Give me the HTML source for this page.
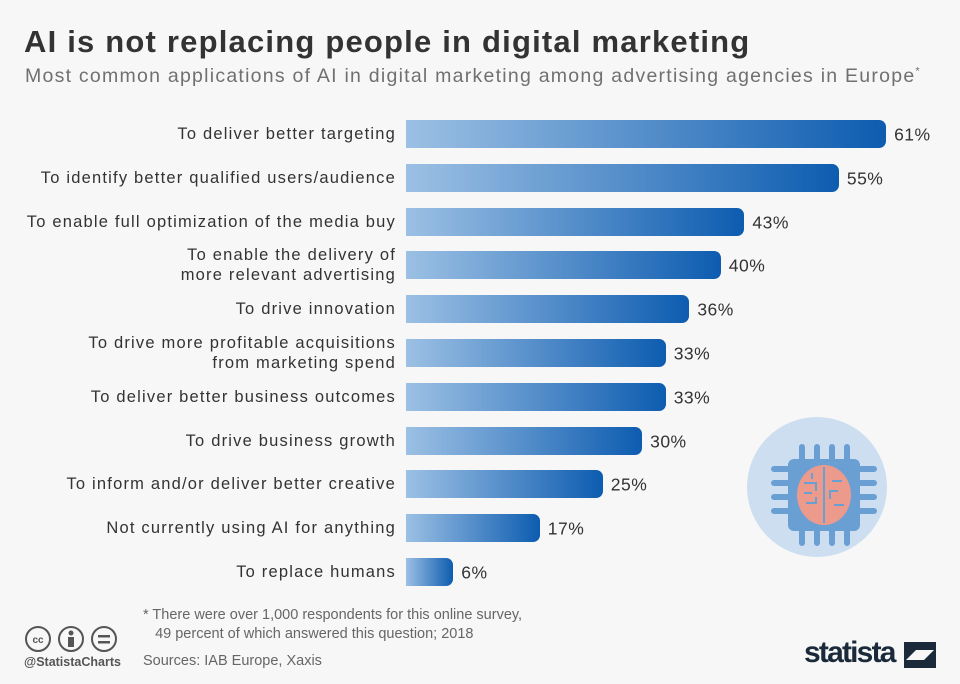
<!DOCTYPE html>
<html><head><meta charset="utf-8"><style>
body{margin:0;width:960px;height:684px;background:#f7f7f7;font-family:"Liberation Sans","DejaVu Sans",sans-serif;position:relative;overflow:hidden;color:#333}
.t{position:absolute;left:24px;top:24px;font-size:31px;font-weight:bold;color:#333;letter-spacing:1.2px}
.s{position:absolute;left:25px;top:65px;font-size:19.5px;color:#707070;letter-spacing:1.25px}
.l{position:absolute;right:564px;font-size:16.5px;color:#333;text-align:right;line-height:20px;transform:translateY(-50%);letter-spacing:1.2px}
.b{position:absolute;left:406px;height:28px;border-radius:0 7px 7px 0;background:linear-gradient(90deg,#9cc0e4,#0d5cb0)}
.v{position:absolute;font-size:17.5px;color:#333;transform:translateY(-50%);letter-spacing:0.5px}
.f{position:absolute;font-size:14.5px;color:#666}
</style></head><body>
<div class="t">AI is not replacing people in digital marketing</div>
<div class="s">Most common applications of AI in digital marketing among advertising agencies in Europe<sup style="font-size:11px">*</sup></div>
<div id="c"></div>
<svg style="position:absolute;left:747px;top:417px" width="140" height="140" viewBox="0 0 140 140">
<circle cx="70" cy="70" r="70" fill="#ccdeef"/>
<g stroke="#6a9fd4" stroke-width="6" stroke-linecap="round">
<path d="M55 30v14M70 30v14M85 30v14M100 30v14M55 112v14M70 112v14M85 112v14M100 112v14M27 52h14M27 66h14M27 80h14M27 94h14M113 52h14M113 66h14M113 80h14M113 94h14"/></g>
<rect x="41" y="42" width="72" height="72" rx="6" fill="#6a9fd4"/>
<ellipse cx="77" cy="78" rx="27" ry="30" fill="#ec9a8c"/>
<g stroke="#6a9fd4" stroke-width="2" fill="none"><path d="M77 50v56M57 66h12v8M85 64h10M59 86h10v-6M87 88h10M65 56v6M91 74h-8v8M57 76h8"/></g>
</svg>
<svg style="position:absolute;left:24px;top:625px" width="96" height="28"><g fill="none" stroke="#555" stroke-width="2"><circle cx="14" cy="14" r="12"/><circle cx="47" cy="14" r="12"/><circle cx="80" cy="14" r="12"/></g><text x="14" y="18" font-size="10" font-weight="bold" text-anchor="middle" fill="#555" font-family="Liberation Sans">cc</text><circle cx="47" cy="8" r="2.5" fill="#555"/><rect x="44" y="12" width="6" height="10" fill="#555"/><rect x="74" y="10" width="12" height="2.5" fill="#555"/><rect x="74" y="16" width="12" height="2.5" fill="#555"/></svg>
<div class="f" style="left:24px;top:655px;font-size:12.5px;font-weight:bold;color:#555">@StatistaCharts</div>
<div class="f" style="left:143px;top:606px;line-height:19px">* There were over 1,000 respondents for this online survey,<br>&nbsp;&nbsp;&nbsp;49 percent of which answered this question; 2018</div>
<div class="f" style="left:143px;top:653px">Sources: IAB Europe, Xaxis</div>
<div style="position:absolute;left:804px;top:636px;font-size:30px;font-weight:bold;color:#1a2a3a;letter-spacing:-1.8px">statista</div>
<svg style="position:absolute;left:904px;top:642px" width="32" height="26"><path d="M0 0h32v8H12L0 20z M32 26H0v-8h20L32 6z" fill="#1a2a3a"/></svg>
<script>
var d=[["To deliver better targeting",61],["To identify better qualified users/audience",55],["To enable full optimization of the media buy",43],["To enable the delivery of<br>more relevant advertising",40],["To drive innovation",36],["To drive more profitable acquisitions<br>from marketing spend",33],["To deliver better business outcomes",33],["To drive business growth",30],["To inform and/or deliver better creative",25],["Not currently using AI for anything",17],["To replace humans",6]];
var h="";d.forEach(function(r,i){var c=134+i*43.8,w=r[1]*7.87;
h+='<div class="l" style="top:'+c+'px">'+r[0]+'</div><div class="b" style="top:'+(c-14)+'px;width:'+w+'px"></div><div class="v" style="top:'+(c+1)+'px;left:'+(406+w+8)+'px">'+r[1]+'%</div>';});
document.getElementById("c").innerHTML=h;
</script>
</body></html>
